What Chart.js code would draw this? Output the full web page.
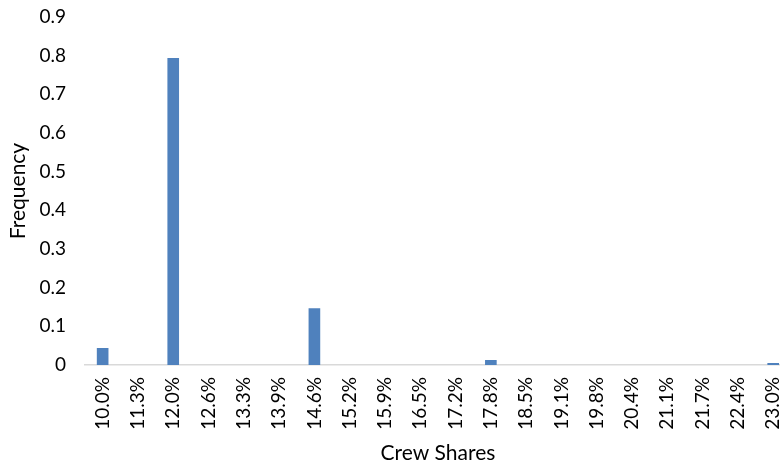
<!DOCTYPE html>
<html>
<head>
<meta charset="utf-8">
<script src="https://cdn.jsdelivr.net/npm/chart.js@4.4.1/dist/chart.umd.min.js"></script>
<style>
  html, body { margin: 0; padding: 0; background: #fff; overflow: hidden; }
  #wrap { width: 808px; height: 468px; position: relative; }
</style>
</head>
<body>
<div id="wrap"><canvas id="c" width="808" height="468"></canvas></div>
<script>
// Crew share bins and their observed frequency
const shares = ['10.0%','11.3%','12.0%','12.6%','13.3%','13.9%','14.6%','15.2%','15.9%','16.5%','17.2%',
                '17.8%','18.5%','19.1%','19.8%','20.4%','21.1%','21.7%','22.4%','23.0%'];
const frequency = [0.044, 0, 0.794, 0, 0, 0, 0.147, 0, 0, 0, 0, 0.013, 0, 0, 0, 0, 0, 0, 0, 0.005];
const yTicks = [0, 0.1, 0.2, 0.3, 0.4, 0.5, 0.6, 0.7, 0.8, 0.9];

const font = 'Lato, "Open Sans", "Liberation Sans", sans-serif';

new Chart(document.getElementById('c'), {
  type: 'bar',
  data: {
    labels: shares,
    datasets: [{
      data: frequency,
      backgroundColor: '#4f81bd',
      categoryPercentage: 1,
      barPercentage: 0.33
    }]
  },
  options: {
    responsive: false,
    animation: false,
    layout: { padding: { top: 17, left: 6, right: 0, bottom: 0 } },
    plugins: { legend: { display: false }, tooltip: { enabled: false } },
    scales: {
      x: {
        grid: { display: false, drawTicks: false },
        border: { display: true, color: '#d9d9d9', width: 1.5 },
        ticks: {
          color: '#000', font: { family: font, size: 19 },
          maxRotation: 90, minRotation: 90, padding: 12, autoSkip: false
        },
        title: { display: true, text: 'Crew Shares', color: '#000',
                 font: { family: font, size: 21 }, padding: { top: 2, bottom: 2 } },
        afterFit: s => { s.height = 103; }
      },
      y: {
        min: 0, max: 0.9,
        afterBuildTicks: s => { s.ticks = yTicks.map(v => ({ value: v })); },
        grid: { display: false, drawTicks: false },
        border: { display: false },
        ticks: { color: '#000', font: { family: font, size: 19 }, padding: 19,
                 callback: v => String(Math.round(v * 10) / 10) },
        title: { display: true, text: 'Frequency', color: '#000',
                 font: { family: font, size: 21 }, padding: { top: 0, bottom: 0 } },
        afterFit: s => { s.width = 79; s.paddingTop = 0; s.paddingBottom = 0; }
      }
    }
  }
});
</script>
</body>
</html>
